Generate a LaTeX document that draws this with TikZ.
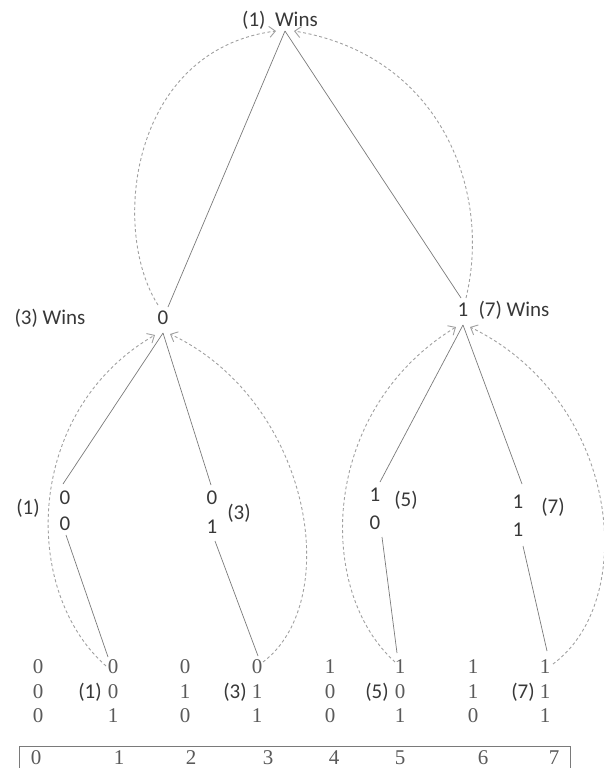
\documentclass[tikz,border=0pt]{standalone}
\usepackage{fontspec}
\setmainfont{Liberation Serif}
\newfontfamily\calf{Carlito}
\usetikzlibrary{arrows.meta}
\definecolor{txt}{HTML}{383838}
\definecolor{ser}{HTML}{5A5A5A}
\definecolor{sol}{HTML}{7A7A7A}
\definecolor{dsh}{HTML}{A0A0A0}
\begin{document}
\begin{tikzpicture}[x=1pt,y=-1pt,
 lab/.style={font=\calf\fontsize{21}{23}\selectfont, text=txt, inner sep=0pt},
 dig/.style={font=\fontsize{21}{23}\selectfont, text=ser, inner sep=0pt},
 solidline/.style={draw=sol, line width=0.7pt},
 dashline/.style={draw=dsh, line width=0.9pt, dash pattern=on 3pt off 2.5pt},
 arr/.style={-{Straight Barb[length=6pt,width=11pt]}}]
\useasboundingbox (0,0) rectangle (604,768);
% labels
\node[lab] (top) at (280,20) {(1)\ \ Wins};
\node[lab] (lw) at (50,318) {(3) Wins};
\node[lab] (l0) at (163,318) {0};
\node[lab] (r1) at (463,310) {1};
\node[lab] (rw) at (514,310) {(7) Wins};
\node[lab] (a1) at (65,498) {0};
\node[lab] (a2) at (65,524) {0};
\node[lab] (a1l) at (28,508) {(1)};
\node[lab] (b1) at (212,498) {0};
\node[lab] (b2) at (212,527) {1};
\node[lab] (b1l) at (239,513) {(3)};
\node[lab] (c1) at (375,495) {1};
\node[lab] (c2) at (375,523) {0};
\node[lab] (c1l) at (406,500) {(5)};
\node[lab] (d1) at (518,502) {1};
\node[lab] (d2) at (518,530) {1};
\node[lab] (d1l) at (553,507) {(7)};
% leaf rows
\foreach \i/\x/\p/\q/\r in {0/38/0/0/0,1/113/0/0/1,2/185/0/1/0,3/257/0/1/1,4/330/1/0/0,5/400/1/0/1,6/473/1/1/0,7/545/1/1/1}{
  \node[dig] (ra\i) at (\x,667) {\p};
  \node[dig] (rb\i) at (\x,692) {\q};
  \node[dig] (rc\i) at (\x,716) {\r};
}
\node[lab] (w1) at (90,692) {(1)};
\node[lab] (w3) at (235,692) {(3)};
\node[lab] (w5) at (377,692) {(5)};
\node[lab] (w7) at (523,692) {(7)};
% table
\draw[draw=sol, line width=0.8pt] (19,746) rectangle (570,790);
\foreach \i/\x in {0/36,1/119,2/191,3/268,4/334,5/400,6/483,7/554}{
  \node[dig] (t\i) at (\x,758) {\i};
}
% coordinates
\coordinate (T) at (285,31);
\coordinate (TL) at (276,31);
\coordinate (TR) at (294,31);
\coordinate (l0n) at (168,307);
\coordinate (l0d) at (158,305);
\coordinate (r1n) at (461,298);
\coordinate (r1d) at (466,298);
\coordinate (LA) at (163,333);
\coordinate (LAl) at (155,335);
\coordinate (LAr) at (170,334);
\coordinate (RA) at (463,325);
\coordinate (RAl) at (456,327);
\coordinate (RAr) at (470,327);
\coordinate (a1n) at (63,484);
\coordinate (b1n) at (211,485);
\coordinate (c1n) at (380,482);
\coordinate (d1n) at (522,484);
\coordinate (a2s) at (66,535);
\coordinate (b2s) at (215,541);
\coordinate (c2s) at (382,537);
\coordinate (d2s) at (523,546);
\coordinate (L1) at (108,657);
\coordinate (L3) at (258,656);
\coordinate (L5) at (397,653);
\coordinate (L7) at (547,651);
\coordinate (D1) at (106,666);
\coordinate (D3) at (263,662);
\coordinate (D5) at (395,662);
\coordinate (D7) at (553,664);
% solid lines
\draw[solidline] (T) -- (l0n);
\draw[solidline] (T) -- (r1n);
\draw[solidline] (LA) -- (a1n);
\draw[solidline] (LA) -- (b1n);
\draw[solidline] (RA) -- (c1n);
\draw[solidline] (RA) -- (d1n);
\draw[solidline] (a2s) -- (L1);
\draw[solidline] (b2s) -- (L3);
\draw[solidline] (c2s) -- (L5);
\draw[solidline] (d2s) -- (L7);
% dashed arcs
\draw[dashline,arr] (l0d) .. controls (110,230) and (130,50) .. (TL);
\draw[dashline,arr] (r1d) .. controls (492,190) and (440,55) .. (TR);
\draw[dashline,arr] (D1) .. controls (20,590) and (25,410) .. (LAl);
\draw[dashline,arr] (D3) .. controls (345,600) and (310,400) .. (LAr);
\draw[dashline,arr] (D5) .. controls (315,590) and (320,410) .. (RAl);
\draw[dashline,arr] (D7) .. controls (640,600) and (620,400) .. (RAr);
\end{tikzpicture}
\end{document}
